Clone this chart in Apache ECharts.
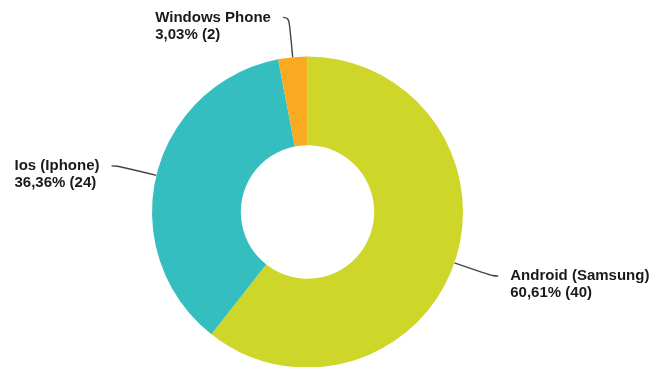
<!DOCTYPE html>
<html>
<head>
<meta charset="utf-8">
<script src="https://cdn.jsdelivr.net/npm/echarts@6/dist/echarts.min.js"></script>
<style>
html,body{margin:0;padding:0;background:#fff;}
#chart{width:657px;height:367px;}
</style>
</head>
<body>
<div id="chart"></div>
<script>
var categories = ['Android (Samsung)', 'Ios (Iphone)', 'Windows Phone'];
var values = [40, 24, 2];
var colors = ['#CED62A', '#35BEBF', '#F7AA22'];

var chart = echarts.init(document.getElementById('chart'), null, {renderer: 'canvas'});
var data = categories.map(function (c, i) {
  return {name: c, value: values[i], itemStyle: {color: colors[i]}};
});
chart.setOption({
  animation: false,
  backgroundColor: '#ffffff',
  series: [{
    type: 'pie',
    center: [307.5, 212],
    radius: [66.7, 155.5],
    startAngle: 90,
    clockwise: true,
    percentPrecision: 2,
    avoidLabelOverlap: false,
    itemStyle: {borderWidth: 0},
    emphasis: {disabled: true},
    label: {
      show: true,
      position: 'outside',
      distanceToLabelLine: 12,
      fontFamily: 'Liberation Sans, Arial, sans-serif',
      fontWeight: 'bold',
      fontSize: 15,
      lineHeight: 17,
      color: '#1a1a1a',
      padding: [17, 0, 0, 0],
      formatter: function (p) {
        return '{a|' + p.name + '}\n{a|' + p.percent.toFixed(2).replace('.', ',') + '% (' + p.value + ')}';
      },
      rich: {
        a: {
          align: 'left',
          fontFamily: 'Liberation Sans, Arial, sans-serif',
          fontWeight: 'bold',
          fontSize: 15,
          lineHeight: 17,
          color: '#1a1a1a'
        }
      }
    },
    labelLine: {
      show: true,
      length: 40,
      length2: 6,
      smooth: 0.5,
      lineStyle: {color: '#444444', width: 1.4}
    },
    data: data
  }]
});
</script>
</body>
</html>
